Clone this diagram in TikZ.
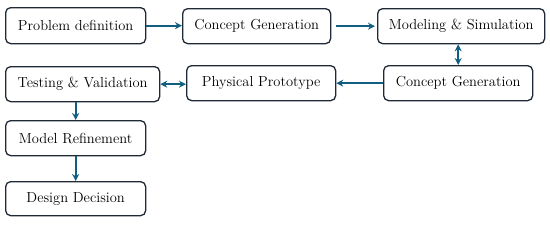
\documentclass[tikz,border=0pt]{standalone}
\usetikzlibrary{arrows.meta}
\definecolor{flowblue}{RGB}{18,94,128}
\definecolor{boxline}{RGB}{32,42,54}
\tikzset{
  flow step/.style={draw=boxline,line width=1.3pt,rounded corners=5pt,fill=white,
    inner sep=0pt,anchor=north west,font=\fontsize{14.5}{17}\selectfont},
  flow map/.style={-{Stealth[length=7pt,width=7pt]},line width=1.8pt,draw=flowblue},
  flow both/.style={{Stealth[length=7pt,width=7pt]}-{Stealth[length=7pt,width=7pt]},line width=1.8pt,draw=flowblue}
}
\newcommand{\stepbox}[6]{%
  \node[flow step,minimum width=#4pt,minimum height=#5pt] (#1) at (#2,#3) {#6};}

\begin{document}
\begin{tikzpicture}[x=1pt,y=-1pt]
  \useasboundingbox (0,0) rectangle (550,226);
  \stepbox{prob}{5}{7}{140}{36}{Problem definition}
  \stepbox{cgen}{182}{8}{148}{35}{Concept Generation}
  \stepbox{model}{377}{8}{167}{35}{Modeling \& Simulation}
  \stepbox{cgentwo}{383}{65}{149}{35}{Concept Generation}
  \stepbox{proto}{186}{65}{149}{35}{Physical Prototype}
  \stepbox{test}{5}{66}{154}{35}{Testing \& Validation}
  \stepbox{refine}{5}{120}{140}{35}{Model Refinement}
  \stepbox{decide}{5}{181}{140}{34}{Design Decision}
  % connectors
  \draw[flow map] (prob.east) -- (prob.east -| cgen.west);
  \draw[flow map,shorten <=5pt,shorten >=2pt] (cgen.east) -- (model.west);
  \draw[flow both] (model.south -| cgentwo.north) -- (cgentwo.north);
  \draw[flow map] (cgentwo.west) -- (proto.east);
  \draw[flow both] (test.east) -- (test.east -| proto.west);
  \draw[flow map] (test.south -| refine.north) -- (refine.north);
  \draw[flow map] (refine.south) -- (decide.north);
\end{tikzpicture}
\end{document}
